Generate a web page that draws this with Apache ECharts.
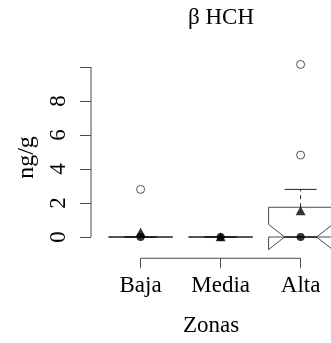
<!DOCTYPE html>
<html>
<head>
<meta charset="utf-8">
<script src="https://cdn.jsdelivr.net/npm/echarts@6/dist/echarts.min.js"></script>
<style>
  html, body { margin: 0; padding: 0; background: #fff; }
  #chart { width: 331px; height: 343px; }
</style>
</head>
<body>
<div id="chart"></div>
<script>
// Zones along the x axis
const zonas = ['Baja', 'Media', 'Alta'];
// Box statistics per zone: lower whisker, Q1, median, Q3, upper whisker
const whiskerLow = [0, 0, 0];
const q1 = [0, 0, 0];
const medians = [0, 0, 0];
const q3 = [0, 0, 1.75];
const whiskerHigh = [0, 0, 2.8];
// Notch limits around the median
const notchLow = [0, 0, -0.74];
const notchHigh = [0, 0, 0.74];
// Means per zone
const means = [0.28, 0.02, 1.55];
// Outlying values: zone index (1-based) and value
const outlierZone = [1, 3, 3];
const outlierValue = [2.8, 4.82, 10.15];
// Y axis ticks and labels
const yTicks = [0, 2, 4, 6, 8, 10];
const yLabels = [0, 2, 4, 6, 8];

const FONT = 'Liberation Serif';
const LINE = '#4a4a4a';
const X_MIN = 0.38, X_MAX = 3.38, Y_MIN = -1.25, Y_MAX = 10.6;

const boxData = zonas.map((z, i) => [i + 1, whiskerLow[i], q1[i], medians[i], q3[i], whiskerHigh[i], notchLow[i], notchHigh[i]]);

function renderBox(params, api) {
  const x = api.value(0);
  const wLo = api.value(1), b1 = api.value(2), med = api.value(3), b3 = api.value(4), wHi = api.value(5);
  const nLo = api.value(6), nHi = api.value(7);
  const hw = 0.4, nw = 0.2, sw = 0.2;
  const P = (a, b) => api.coord([a, b]);
  const poly = [
    P(x - hw, b1), P(x - hw, nLo), P(x - nw, med), P(x - hw, nHi), P(x - hw, b3),
    P(x + hw, b3), P(x + hw, nHi), P(x + nw, med), P(x + hw, nLo), P(x + hw, b1)
  ];
  const seg = (a, b, style) => ({
    type: 'line',
    shape: { x1: a[0], y1: a[1], x2: b[0], y2: b[1] },
    style: style
  });
  const children = [
    { type: 'polygon', shape: { points: poly }, style: { stroke: LINE, lineWidth: 1, fill: 'rgba(0,0,0,0)' } }
  ];
  // whiskers are dashed, only drawn when they have length
  if (wHi > b3) children.push(seg(P(x, b3), P(x, wHi), { stroke: '#222', lineWidth: 1, lineDash: [4, 4] }));
  if (wLo < b1) children.push(seg(P(x, b1), P(x, wLo), { stroke: '#222', lineWidth: 1, lineDash: [4, 4] }));
  children.push(seg(P(x - sw, wHi), P(x + sw, wHi), { stroke: '#222', lineWidth: 1 }));
  children.push(seg(P(x - sw, wLo), P(x + sw, wLo), { stroke: '#222', lineWidth: 1 }));
  children.push(seg(P(x - nw, med), P(x + nw, med), { stroke: '#111', lineWidth: 1.2 }));
  return { type: 'group', children: children };
}

// Axis lines span only the tick range, drawn through the axis scales
function renderAxes(params, api) {
  const P = (a, b) => api.coord([a, b]);
  const yA = P(X_MIN, yTicks[0]), yB = P(X_MIN, yTicks[yTicks.length - 1]);
  const xA = P(1, Y_MIN), xB = P(zonas.length, Y_MIN);
  return {
    type: 'group',
    children: [
      { type: 'line', shape: { x1: yA[0], y1: yA[1], x2: yB[0], y2: yB[1] }, style: { stroke: LINE, lineWidth: 1 } },
      { type: 'line', shape: { x1: xA[0], y1: xA[1], x2: xB[0], y2: xB[1] }, style: { stroke: LINE, lineWidth: 1 } }
    ]
  };
}

const chart = echarts.init(document.getElementById('chart'), null, { renderer: 'canvas' });
chart.setOption({
  animation: false,
  backgroundColor: '#fff',
  title: {
    text: 'β HCH',
    left: 221,
    top: 6,
    padding: 0,
    textAlign: 'center',
    textStyle: { fontFamily: FONT, fontWeight: 'normal', fontSize: 23, color: '#000' }
  },
  grid: { left: 91, top: 56.8, width: 240, height: 201.45, containLabel: false },
  xAxis: {
    type: 'value',
    min: X_MIN,
    max: X_MAX,
    name: 'Zonas',
    nameLocation: 'middle',
    nameGap: 56,
    nameTextStyle: { fontFamily: FONT, fontSize: 23, color: '#000' },
    axisLine: { show: false, onZero: false },
    splitLine: { show: false },
    axisTick: { show: true, customValues: [1, 2, 3], length: 10, lineStyle: { color: LINE } },
    axisLabel: {
      customValues: [1, 2, 3],
      margin: 16,
      fontFamily: FONT,
      fontSize: 23,
      color: '#000',
      formatter: v => zonas[Math.round(v) - 1]
    }
  },
  yAxis: {
    type: 'value',
    min: Y_MIN,
    max: Y_MAX,
    name: 'ng/g',
    nameLocation: 'middle',
    nameGap: 43,
    nameRotate: 90,
    nameTextStyle: { fontFamily: FONT, fontSize: 24, color: '#000' },
    axisLine: { show: false, onZero: false },
    splitLine: { show: false },
    axisTick: { show: true, customValues: yTicks, length: 11, lineStyle: { color: LINE } },
    axisLabel: {
      customValues: yLabels,
      rotate: 90,
      margin: 21,
      fontFamily: FONT,
      fontSize: 23,
      color: '#000'
    }
  },
  series: [
    { type: 'custom', renderItem: renderAxes, data: [[0]], silent: true, clip: false, z: 1 },
    { type: 'custom', renderItem: renderBox, data: boxData, silent: true, clip: false, z: 2,
      encode: { x: 0, y: [1, 2, 3, 4, 5, 6, 7] } },
    { type: 'scatter', data: medians.map((m, i) => [i + 1, m]), symbol: 'circle', symbolSize: 8,
      itemStyle: { color: '#000' }, silent: true, z: 3 },
    { type: 'scatter', data: means.map((m, i) => [i + 1, m]), symbol: 'triangle', symbolSize: [10, 9],
      itemStyle: { color: '#000' }, silent: true, z: 4 },
    { type: 'scatter', data: outlierValue.map((v, i) => [outlierZone[i], v]), symbol: 'circle', symbolSize: 8,
      itemStyle: { color: '#fff', borderColor: '#111', borderWidth: 0.9 }, silent: true, z: 5 }
  ]
});
</script>
</body>
</html>
